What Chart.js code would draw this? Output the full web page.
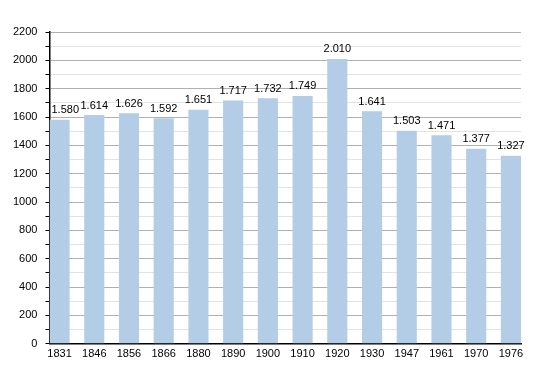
<!DOCTYPE html>
<html>
<head>
  <meta charset="utf-8">
  <script src="https://cdn.jsdelivr.net/npm/chart.js@4.4.0/dist/chart.umd.min.js"></script>
  <style>
    html, body { margin: 0; padding: 0; background: #fff; }
    #wrap { width: 550px; height: 373px; }
  </style>
</head>
<body>
  <div id="wrap"><canvas id="chart"></canvas></div>
  <script>
    // данные
    const years = ['1831', '1846', '1856', '1866', '1880', '1890', '1900', '1910', '1920', '1930', '1947', '1961', '1970', '1976'];
    const population = [1580, 1614, 1626, 1592, 1651, 1717, 1732, 1749, 2010, 1641, 1503, 1471, 1377, 1327];
    const yMax = 2200;

    const fmt = v => String(v).replace(/\B(?=(\d{3})+(?!\d))/g, '.');
    const FONT = '"Liberation Sans", Arial, sans-serif';

    // подписи над столбцами
    const valueLabels = {
      id: 'valueLabels',
      afterDatasetsDraw(chart) {
        const ctx = chart.ctx;
        const meta = chart.getDatasetMeta(0);
        const left = chart.chartArea.left;
        ctx.save();
        ctx.font = '11px ' + FONT;
        ctx.fillStyle = '#000';
        ctx.textAlign = 'center';
        ctx.textBaseline = 'bottom';
        meta.data.forEach((bar, i) => {
          const txt = fmt(population[i]);
          const half = ctx.measureText(txt).width / 2;
          const x = Math.max(bar.x, left + half + 2);
          ctx.fillText(txt, x, bar.y - 4);
        });
        ctx.restore();
      }
    };

    new Chart(document.getElementById('chart'), {
      type: 'bar',
      data: {
        datasets: [{
          data: population.map((v, i) => ({ x: i, y: v })),
          backgroundColor: '#b3cde6',
          borderWidth: 0,
          categoryPercentage: 1,
          barPercentage: 0.58
        }]
      },
      options: {
        responsive: true,
        maintainAspectRatio: false,
        animation: false,
        layout: { padding: { top: 32, right: 29, left: 5, bottom: 8 } },
        plugins: {
          legend: { display: false },
          tooltip: { enabled: false }
        },
        scales: {
          x: {
            type: 'linear',
            offset: false,
            min: -0.29,
            max: years.length - 1 + 0.29,
            grid: { display: false, drawTicks: false },
            border: { color: '#000', width: 1.5 },
            afterBuildTicks: s => { s.ticks = years.map((_, i) => ({ value: i })); },
            ticks: {
              autoSkip: false,
              color: '#000',
              padding: 4,
              font: { family: FONT, size: 11 },
              maxRotation: 0,
              callback: v => years[v] || ''
            }
          },
          y: {
            min: 0,
            max: yMax,
            border: { color: '#000', width: 1.5 },
            grid: {
              color: c => (c.tick && c.tick.value % 200 === 0) ? '#b0b0b0' : '#e2e2e2',
              tickColor: '#000',
              tickLength: 4
            },
            ticks: {
              stepSize: 100,
              autoSkip: false,
              color: '#000',
              padding: 8,
              font: { family: FONT, size: 11 },
              callback: v => (v % 200 === 0 ? String(v) : '')
            }
          }
        }
      },
      plugins: [valueLabels]
    });
  </script>
</body>
</html>
